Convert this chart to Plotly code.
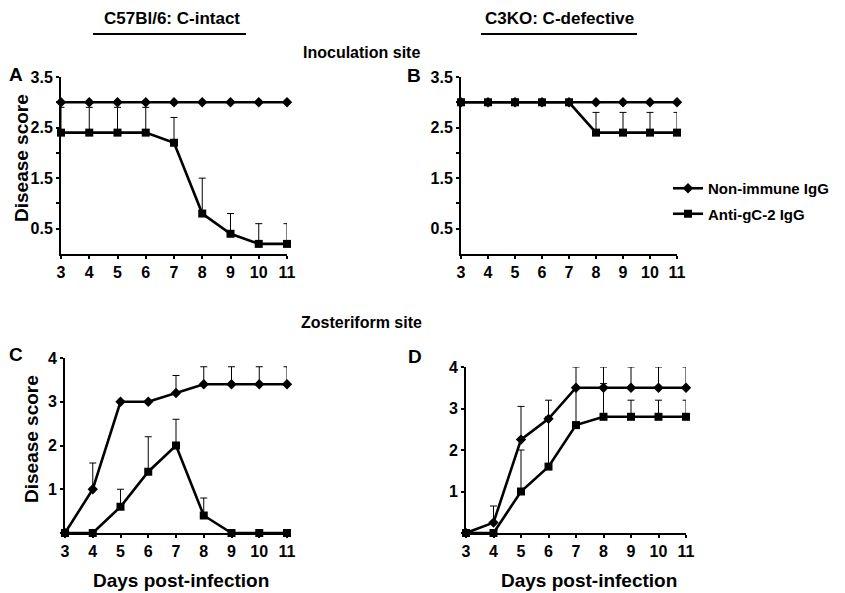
import plotly.graph_objects as go

days = [3, 4, 5, 6, 7, 8, 9, 10, 11]

# Panel A: C57Bl/6, inoculation site
a_non = [3.0, 3.0, 3.0, 3.0, 3.0, 3.0, 3.0, 3.0, 3.0]
a_non_err = [0, 0, 0, 0, 0, 0, 0, 0, 0]
a_anti = [2.4, 2.4, 2.4, 2.4, 2.2, 0.8, 0.4, 0.2, 0.2]
a_anti_err = [0.5, 0.5, 0.5, 0.5, 0.5, 0.7, 0.4, 0.4, 0.4]

# Panel B: C3KO, inoculation site
b_non = [3.0, 3.0, 3.0, 3.0, 3.0, 3.0, 3.0, 3.0, 3.0]
b_non_err = [0, 0, 0, 0, 0, 0, 0, 0, 0]
b_anti = [3.0, 3.0, 3.0, 3.0, 3.0, 2.4, 2.4, 2.4, 2.4]
b_anti_err = [0, 0, 0, 0, 0, 0.4, 0.4, 0.4, 0.4]

# Panel C: C57Bl/6, zosteriform site
c_non = [0, 1.0, 3.0, 3.0, 3.2, 3.4, 3.4, 3.4, 3.4]
c_non_err = [0, 0.6, 0, 0, 0.4, 0.4, 0.4, 0.4, 0.4]
c_anti = [0, 0, 0.6, 1.4, 2.0, 0.4, 0, 0, 0]
c_anti_err = [0, 0, 0.4, 0.8, 0.6, 0.4, 0, 0, 0]

# Panel D: C3KO, zosteriform site
d_non = [0, 0.25, 2.25, 2.75, 3.5, 3.5, 3.5, 3.5, 3.5]
d_non_err = [0, 0.4, 0.8, 0.45, 0.5, 0.5, 0.5, 0.5, 0.5]
d_anti = [0, 0, 1.0, 1.6, 2.6, 2.8, 2.8, 2.8, 2.8]
d_anti_err = [0, 0, 1.0, 1.2, 0.9, 0.8, 0.4, 0.4, 0.4]

series_names = ["Non-immune IgG", "Anti-gC-2 IgG"]

W, H = 845, 593
FONT = "Liberation Sans, Arial, sans-serif"


def fx(px):
    return px / W


def fy(py):
    return 1 - py / H


fig = go.Figure()

panels = [
    ("x", "y", a_non, a_non_err, a_anti, a_anti_err),
    ("x2", "y2", b_non, b_non_err, b_anti, b_anti_err),
    ("x3", "y3", c_non, c_non_err, c_anti, c_anti_err),
    ("x4", "y4", d_non, d_non_err, d_anti, d_anti_err),
]

for i, (xa, ya, non, non_err, anti, anti_err) in enumerate(panels):
    for j, (vals, errs, sym, size) in enumerate(
        [(non, non_err, "diamond", 8), (anti, anti_err, "square", 8)]
    ):
        fig.add_trace(
            go.Scatter(
                x=days,
                y=vals,
                xaxis=xa,
                yaxis=ya,
                mode="lines+markers",
                name=series_names[j],
                legendgroup=series_names[j],
                showlegend=(i == 1),
                line=dict(color="black", width=2.6),
                marker=dict(symbol=sym, size=size, color="black"),
                error_y=dict(
                    type="data",
                    array=errs,
                    arrayminus=[0] * len(errs),
                    symmetric=False,
                    color="black",
                    thickness=1,
                    width=3.5,
                ),
                cliponaxis=False,
            )
        )

axis_common = dict(
    showline=True,
    linecolor="black",
    linewidth=2,
    ticks="outside",
    ticklen=3,
    tickwidth=1.5,
    tickcolor="black",
    showgrid=False,
    zeroline=False,
    automargin=False,
    tickfont=dict(family=FONT, size=16, color="black", weight="bold"),
)

xticks = dict(tickvals=days, ticktext=[str(d) for d in days])

top_yt = dict(
    tickvals=[0.5, 1, 1.5, 2, 2.5, 3, 3.5],
    ticktext=["0.5", "", "1.5", "", "2.5", "", "3.5"],
    range=[0, 3.5],
)
bot_yt = dict(tickvals=[0, 1, 2, 3, 4], ticktext=["", "1", "2", "3", "4"], range=[0, 4])

fig.update_layout(
    width=W,
    height=H,
    margin=dict(l=0, r=0, t=0, b=0, pad=0),
    paper_bgcolor="white",
    plot_bgcolor="white",
    font=dict(family=FONT, color="black"),
    xaxis=dict(domain=[fx(61), fx(287)], range=[3, 11], anchor="y", **xticks, **axis_common),
    yaxis=dict(domain=[fy(254), fy(77)], anchor="x", **top_yt, **axis_common),
    xaxis2=dict(domain=[fx(461), fx(677)], range=[3, 11], anchor="y2", **xticks, **axis_common),
    yaxis2=dict(domain=[fy(254), fy(77)], anchor="x2", **top_yt, **axis_common),
    xaxis3=dict(domain=[fx(65), fx(287)], range=[3, 11], anchor="y3", **xticks, **axis_common),
    yaxis3=dict(domain=[fy(533), fy(358)], anchor="x3", **bot_yt, **axis_common),
    xaxis4=dict(domain=[fx(466), fx(686)], range=[3, 11], anchor="y4", **xticks, **axis_common),
    yaxis4=dict(domain=[fy(533), fy(367)], anchor="x4", **bot_yt, **axis_common),
    legend=dict(
        x=fx(668),
        y=fy(172),
        xanchor="left",
        yanchor="top",
        itemwidth=30,
        tracegroupgap=3,
        font=dict(family=FONT, size=15, color="black", weight="bold"),
        bgcolor="rgba(0,0,0,0)",
    ),
)

annots = [
    ("C57Bl/6: C-intact", 172, 19, 17, 0),
    ("C3KO: C-defective", 559, 19, 17, 0),
    ("Inoculation site", 361, 52, 16, 0),
    ("Zosteriform site", 361, 322, 16, 0),
    ("A", 16, 74, 19, 0),
    ("B", 414, 76, 19, 0),
    ("C", 16, 354, 19, 0),
    ("D", 415, 356, 19, 0),
    ("Disease score", 21, 158, 19, -90),
    ("Disease score", 31, 439, 19, -90),
    ("Days post-infection", 181, 580, 19, 0),
    ("Days post-infection", 589, 580, 19, 0),
]
for text, x, y, sz, ang in annots:
    fig.add_annotation(
        text=text,
        x=fx(x),
        y=fy(y),
        xref="paper",
        yref="paper",
        showarrow=False,
        xanchor="center",
        yanchor="middle",
        textangle=ang,
        font=dict(family=FONT, size=sz, color="black", weight="bold"),
    )

for x0, x1 in [(93, 246), (481, 637)]:
    fig.add_shape(
        type="line",
        xref="paper",
        yref="paper",
        x0=fx(x0),
        x1=fx(x1),
        y0=fy(34),
        y1=fy(34),
        line=dict(color="black", width=2),
    )

fig.write_html(
    "out.html",
    config={"displayModeBar": False},
    post_script="document.body.style.margin='0';document.body.style.padding='0';",
)
